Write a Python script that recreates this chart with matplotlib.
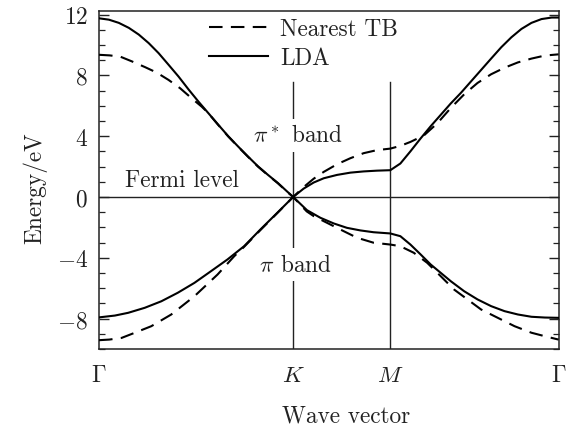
import numpy as np
import matplotlib
matplotlib.use("Agg")
import matplotlib.pyplot as plt
from matplotlib.ticker import MultipleLocator

plt.rcParams.update({
    "font.family": "serif", "font.serif": ["cmr10"],
    "mathtext.fontset": "cm", "axes.unicode_minus": False,
    "font.size": 16.8,
})

# ── high-symmetry path  Γ - K - M - Γ  (path length) ──────────────────────────
k_ticks = [0.0, 4 / 3, 2.0, 2 + 2 / np.sqrt(3)]
k_names = [r"$\Gamma$", r"$K$", r"$M$", r"$\Gamma$"]
y_ticks = [-8, -4, 0, 4, 8, 12]
y_names = ["$-8$", "$-4$", "$0$", "$4$", "$8$", "$12$"]

# LDA bands (eV)
lda_up_k = [0, .068, .136, .205, .273, .341, .409, .477, .546, .614, .682, .750, .818, .887, .955,
            1.023, 1.091, 1.159, 1.228, 1.296, 1.333,
            1.405, 1.474, 1.543, 1.634, 1.726, 1.817, 1.908, 2.0,
            2.069, 2.138, 2.208, 2.277, 2.346, 2.415, 2.485, 2.554, 2.623, 2.692, 2.762, 2.831,
            2.900, 2.969, 3.038, 3.108, 3.155]
lda_up_e = [11.75, 11.66, 11.45, 11.12, 10.68, 10.12, 9.46, 8.70, 7.92, 7.08, 6.28, 5.52, 4.76, 4.00, 3.32,
            2.66, 2.02, 1.46, 0.92, 0.32, 0.0,
            0.55, 0.95, 1.23, 1.45, 1.60, 1.68, 1.73, 1.76,
            2.2, 3.0, 3.85, 4.65, 5.4, 6.15, 6.85, 7.6, 8.35, 9.1, 9.85, 10.5,
            11.05, 11.45, 11.7, 11.8, 11.8]
lda_dn_k = [0, .109, .2, .314, .428, .541, .655, .769, .882, .996, 1.110, 1.223, 1.333,
            1.428, 1.520, 1.611, 1.702, 1.794, 1.885, 2.0,
            2.069, 2.138, 2.208, 2.277, 2.346, 2.415, 2.507, 2.599, 2.692, 2.784, 2.876, 2.969, 3.061, 3.155]
lda_dn_e = [-7.92, -7.8, -7.62, -7.29, -6.86, -6.3, -5.65, -4.88, -4.11, -3.24, -2.12, -1.05, 0.0,
            -0.87, -1.37, -1.74, -2.03, -2.2, -2.32, -2.4,
            -2.58, -3.13, -3.78, -4.44, -4.99, -5.54, -6.2, -6.74, -7.18, -7.51, -7.73, -7.88, -7.93, -7.95]

# nearest-neighbour tight-binding bands (eV)
tb_up_k = [0, .074, .148, .225, .318, .396, .477, .557, .636, .705, .750, .818, .887, .955,
           1.023, 1.091, 1.159, 1.228, 1.296, 1.333,
           1.405, 1.474, 1.543, 1.634, 1.726, 1.817, 1.908, 2.0,
           2.069, 2.138, 2.231, 2.323, 2.415, 2.507, 2.599, 2.692, 2.784, 2.876, 2.969, 3.061, 3.155]
tb_up_e = [9.35, 9.31, 9.22, 8.92, 8.53, 8.18, 7.70, 7.15, 6.49, 5.94, 5.52, 4.74, 3.98, 3.30,
           2.64, 2.00, 1.44, 0.90, 0.30, 0.0,
           0.65, 1.2, 1.65, 2.15, 2.55, 2.88, 3.08, 3.18,
           3.36, 3.62, 4.05, 4.85, 5.85, 6.75, 7.5, 8.07, 8.5, 8.85, 9.1, 9.3, 9.38]
tb_dn_k = [0, .07, .155, .246, .359, .496, .655, .814, .928, .996, 1.110, 1.223, 1.333,
           1.426, 1.474, 1.588, 1.680, 1.771, 1.885, 2.0,
           2.069, 2.161, 2.253, 2.346, 2.438, 2.530, 2.623, 2.738, 2.853, 2.969, 3.061, 3.155]
tb_dn_e = [-9.42, -9.38, -9.27, -8.93, -8.5, -7.73, -6.53, -5.1, -3.9, -3.28, -2.16, -1.07, 0.0,
           -0.95, -1.26, -1.81, -2.25, -2.68, -3.01, -3.13,
           -3.24, -3.67, -4.33, -5.21, -6.09, -6.74, -7.4, -7.95, -8.5, -8.93, -9.16, -9.38]

INK = "#222222"
DASH = (0, (6.5, 4))

fig = plt.figure(figsize=(5.68, 4.27), dpi=100)
ax = fig.add_axes([0.1743, 0.1803, 0.809, 0.7923])

# guide lines: Fermi level and the K, M verticals
ax.axhline(0, color=INK, lw=1.0, zorder=1)
for kx in k_ticks[1:3]:
    ax.plot([kx, kx], [-10.5, 7.53], color=INK, lw=1.0, zorder=1)

ax.plot(tb_up_k, tb_up_e, color="black", lw=1.5, ls=DASH, label="Nearest TB", zorder=3)
ax.plot(tb_dn_k, tb_dn_e, color="black", lw=1.5, ls=DASH, zorder=3)
ax.plot(lda_up_k, lda_up_e, color="black", lw=1.5, label="LDA", zorder=3)
ax.plot(lda_dn_k, lda_dn_e, color="black", lw=1.5, zorder=3)

box = dict(fc="white", ec="none", pad=4)
ax.text(0.566, 1.1, "Fermi level", ha="center", va="center", color=INK)
ax.text(1.364, 4.05, r"$\pi^*$ band", ha="center", va="center", color=INK, bbox=box, zorder=2)
ax.text(1.35, -4.45, r"$\pi$ band", ha="center", va="center", color=INK, bbox=box, zorder=2)

ax.set_xlim(k_ticks[0], k_ticks[-1]); ax.set_ylim(-10.0, 12.25)
ax.set_xticks(k_ticks); ax.set_xticklabels(k_names)
ax.set_yticks(y_ticks); ax.set_yticklabels(y_names)
ax.yaxis.set_minor_locator(MultipleLocator(1))
ax.tick_params(axis="x", length=0, pad=11, colors=INK)
ax.tick_params(axis="y", which="both", direction="in", left=True, right=True, colors=INK, pad=8)
ax.tick_params(axis="y", which="major", length=7, width=1.0)
ax.tick_params(axis="y", which="minor", length=4, width=0.9)
for s in ax.spines.values():
    s.set_color(INK); s.set_linewidth(1.1)

ax.set_ylabel("Energy/eV", color=INK); ax.yaxis.set_label_coords(-0.113, 0.477)
ax.set_xlabel("Wave vector", color=INK, va="top"); ax.xaxis.set_label_coords(0.538, -0.163)

ax.legend(loc="upper left", bbox_to_anchor=(0.24, 0.978), frameon=False, borderpad=0,
          borderaxespad=0, handlelength=2.5, handletextpad=0.55, labelspacing=0.3,
          labelcolor=INK)

fig.savefig("out.png", dpi=100)
